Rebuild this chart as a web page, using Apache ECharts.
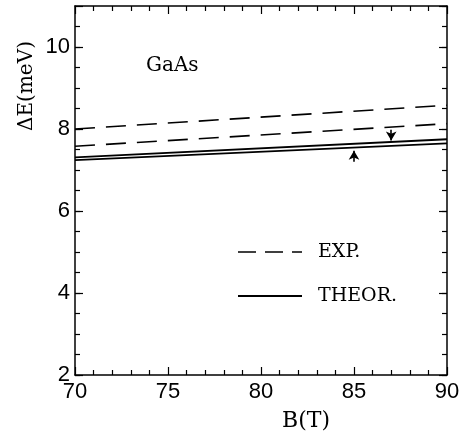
<!DOCTYPE html>
<html>
<head>
<meta charset="utf-8">
<script src="https://cdn.jsdelivr.net/npm/echarts@6/dist/echarts.min.js"></script>
<style>
html,body{margin:0;padding:0;background:#fff;}
#c{width:463px;height:433px;}
</style>
</head>
<body>
<div id="c"></div>
<script>
// ---- data ----
const B = [70, 90];
const expUpper = [8.00, 8.58];
const expLower = [7.58, 8.13];
const theorUpper = [7.31, 7.75];
const theorLower = [7.24, 7.65];
const arrowDown = [[87, 7.98], [87, 7.72]];
const arrowUp = [[85, 7.20], [85, 7.47]];
const xTicks = [70, 75, 80, 85, 90];
const yTicks = [2, 4, 6, 8, 10];
const legendNames = ['EXP.', 'THEOR.'];
const sampleLabel = 'GaAs';
const xName = 'B(T)';
const yName = '\u0394E(meV)';

const pairs = (xs, ys) => xs.map((x, i) => [x, ys[i]]);

const chart = echarts.init(document.getElementById('c'), null, {renderer: 'canvas'});

const serif = '"DejaVu Serif", "Liberation Serif", serif';
const sans = '"Liberation Sans", Arial, sans-serif';
const black = '#000';

function xAx(pos, labels) {
  return {
    type: 'value', position: pos, min: xTicks[0], max: xTicks[xTicks.length - 1], interval: 5,
    axisLine: {show: true, onZero: false, lineStyle: {color: black, width: 1.5}},
    axisTick: {show: true, inside: true, length: 8, lineStyle: {color: black, width: 1.2}},
    minorTick: {show: true, splitNumber: 5, length: 5, lineStyle: {color: black, width: 1.2}},
    splitLine: {show: false},
    axisLabel: {show: labels, color: black, fontFamily: sans, fontSize: 22, margin: 6}
  };
}
function yAx(pos, interval, len, labels, line) {
  return {
    type: 'value', position: pos, min: 2, max: 11, interval: interval,
    axisLine: {show: line, onZero: false, lineStyle: {color: black, width: 1.5}},
    axisTick: {show: true, inside: true, length: len, lineStyle: {color: black, width: 1.2}},
    splitLine: {show: false},
    axisLabel: {show: labels, color: black, fontFamily: sans, fontSize: 22, margin: 5,
      showMaxLabel: false,
      formatter: v => (yTicks.indexOf(v) >= 0 ? String(v) : '')}
  };
}

const lineSeries = (name, ys, dashed) => ({
  type: 'line', name: name, data: pairs(B, ys), showSymbol: false, symbol: 'none',
  silent: true, animation: false,
  lineStyle: {color: black, width: dashed ? 1.6 : 1.8, type: dashed ? [20, 11] : 'solid'}
});

const arrowSeries = (seg) => ({
  type: 'line', data: [], silent: true, animation: false,
  markLine: {
    silent: true, animation: false, symbol: ['none', 'arrow'], symbolSize: [8, 9],
    label: {show: false},
    lineStyle: {color: black, width: 1.6, type: 'solid'},
    data: [[{coord: seg[0]}, {coord: seg[1]}]]
  }
});

const option = {
  animation: false,
  grid: {left: 75, right: 16, top: 6, bottom: 58, containLabel: false},
  xAxis: [xAx('bottom', true), xAx('top', false)],
  yAxis: [
    yAx('left', 0.5, 5, true, true),
    yAx('left', 2, 8, false, false),
    yAx('right', 0.5, 5, false, true),
    yAx('right', 2, 8, false, false)
  ],
  series: [
    lineSeries(legendNames[0], expUpper, true),
    lineSeries(legendNames[0], expLower, true),
    lineSeries(legendNames[1], theorUpper, false),
    lineSeries(legendNames[1], theorLower, false),
    arrowSeries(arrowDown),
    arrowSeries(arrowUp)
  ],
  graphic: [
    {type: 'text', x: 146, y: 66, style: {text: sampleLabel, font: '20px ' + serif, fill: black, verticalAlign: 'middle'}},
    {type: 'text', x: 306, y: 421, style: {text: xName, font: '22px ' + serif, fill: black, align: 'center', verticalAlign: 'middle'}},
    {type: 'text', x: 27, y: 86, rotation: Math.PI / 2, style: {text: yName, font: '20px ' + serif, fill: black, align: 'center', verticalAlign: 'middle'}},
    {type: 'line', shape: {x1: 238, y1: 252, x2: 302, y2: 252}, style: {stroke: black, lineWidth: 1.6, lineDash: [18, 9]}},
    {type: 'line', shape: {x1: 238, y1: 296, x2: 302, y2: 296}, style: {stroke: black, lineWidth: 1.8}},
    {type: 'text', x: 318, y: 252, style: {text: legendNames[0], font: '19px ' + serif, fill: black, verticalAlign: 'middle'}},
    {type: 'text', x: 318, y: 296, style: {text: legendNames[1], font: '19px ' + serif, fill: black, verticalAlign: 'middle'}}
  ]
};
chart.setOption(option);
</script>
</body>
</html>
